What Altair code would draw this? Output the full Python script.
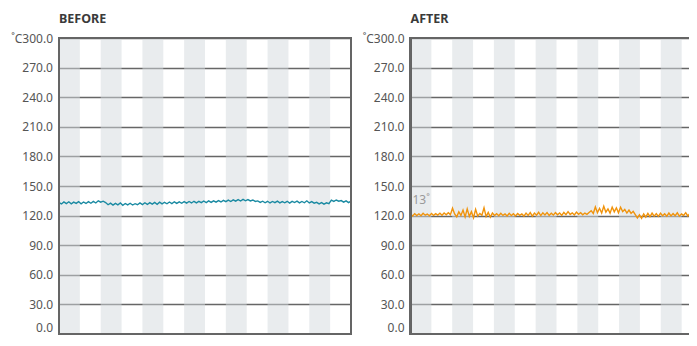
import altair as alt
import pandas as pd

# ---- data ----
y_ticks = [0, 30, 60, 90, 120, 150, 180, 210, 240, 270, 300]
n_bands = 14
panel_titles = ["BEFORE", "AFTER"]
annotation_text = "13˚"
annotation_value = 128.5

before_temp = [
    133.2, 131.8, 133.9, 132.1, 134.0, 131.9, 133.6, 132.4, 134.2, 132.0, 133.8, 132.3, 134.1, 132.5, 134.4, 132.8,
    135.0, 133.6, 134.6, 133.2,
    131.0, 132.6, 130.6, 132.4, 130.9, 132.8, 130.5, 132.3, 130.8, 132.5, 130.7, 132.1, 131.0, 132.9, 131.2, 133.0,
    131.3, 133.2, 131.6, 133.4, 131.5, 133.6, 131.9, 133.5, 132.0, 133.8, 132.2, 134.0, 132.4, 133.9, 132.5, 134.2,
    132.6, 134.3, 132.8, 134.5, 132.9, 134.4, 133.1, 134.8, 133.2, 134.9, 133.4, 135.0, 133.6, 135.2,
    133.8, 135.5, 134.1, 135.7, 134.3, 136.0, 134.6, 136.2, 134.8, 136.5, 135.0, 136.3, 134.9, 135.8, 134.4,
    134.9, 133.4, 134.6, 133.0, 134.5, 132.8, 134.3, 133.1, 134.6, 132.9, 134.2, 133.0, 134.5, 132.7, 134.4, 133.2,
    134.6, 132.9, 134.3, 133.0, 135.0, 132.8, 134.2, 132.6,
    133.4, 131.8, 133.2, 131.6, 133.0, 132.0,
    135.6, 134.4, 135.8, 134.6, 135.2, 133.6, 134.9, 133.2, 134.6,
]

after_temp = [
    121.5, 119.6, 122.0, 120.1, 121.8, 119.8, 122.3, 120.4, 121.6, 119.9, 122.1, 120.2, 121.9, 120.5, 122.4, 120.3,
    122.6, 120.8, 123.0,
    121.0, 127.5, 121.6, 118.8, 123.8, 120.2, 125.6, 118.6, 126.8, 119.2, 124.0, 117.8, 126.4, 119.5, 122.2, 120.3,
    127.9, 119.0, 123.2, 118.5, 122.6, 120.1,
    122.0, 119.8, 122.3, 120.2, 121.7, 119.6, 122.4, 120.0, 121.9, 119.7, 122.2, 120.3, 121.8, 119.5, 122.5, 120.1,
    123.0, 119.4, 122.6, 120.4, 123.4, 120.0, 122.8, 120.6, 123.1, 120.2, 122.4, 120.5, 123.0, 120.8, 122.6, 120.2,
    123.2, 121.0, 124.0, 121.2, 122.8, 120.6, 123.5, 121.4, 123.0, 120.9, 122.6, 121.3, 123.2,
    125.0, 122.2, 128.8, 123.0, 127.4, 122.6, 129.5, 123.4, 126.8, 122.5, 128.6, 123.8, 127.9, 122.8, 128.4, 124.0,
    126.2, 122.6, 125.6, 122.2, 124.4,
    121.0, 117.6, 120.8, 117.2, 121.6, 118.4, 122.3, 119.0, 122.6, 119.5, 122.0, 119.2, 122.4, 119.8, 121.9, 119.5,
    122.6, 119.6, 122.0, 119.9, 122.8, 119.4, 121.8, 120.2, 123.0, 119.6, 122.2, 120.4, 121.6, 119.8, 122.9, 120.3,
    121.5,
]

line_colors = ["#1a8aa2", "#f0930c"]

W, H = 292, 296
FONT = "Noto Sans"


def series_df(vals):
    n = len(vals)
    return pd.DataFrame({"t": [i * n_bands / (n - 1) for i in range(n)], "temp": vals})


bands = pd.DataFrame({"b0": list(range(0, n_bands, 2))})
bands["b1"] = bands["b0"] + 1

x_scale = alt.Scale(domain=[0, n_bands], nice=False, zero=False)
y_scale = alt.Scale(domain=[0, 300], nice=False)

y_axis = alt.Axis(
    values=y_ticks,
    tickCount=len(y_ticks) + 5,
    labelExpr="datum.value == 300 ? '˚C' + format(datum.value, '.1f') : format(datum.value, '.1f')",
    labelOverlap=False,
    labelBaseline={"condition": {"test": "datum.value == 0", "value": "bottom"}, "value": "middle"},
    grid=True, gridColor="#666666", gridWidth=1.3,
    domain=False, ticks=False, labelPadding=6.5,
    labelFont=FONT, labelFontSize=12, labelColor="#555555",
    title=None,
)


def panel(vals, color, title, annotate=False):
    df = series_df(vals)
    base_grid = alt.Chart(df).mark_line(opacity=0).encode(
        x=alt.X("t:Q", scale=x_scale, axis=None),
        y=alt.Y("temp:Q", scale=y_scale, axis=y_axis),
    )
    stripes = alt.Chart(bands).mark_rect(fill="#d3d9de", opacity=0.5).encode(
        x=alt.X("b0:Q", scale=x_scale, axis=None),
        x2="b1:Q",
    )
    line = alt.Chart(df).mark_line(color=color, strokeWidth=1.4).encode(
        x=alt.X("t:Q", scale=x_scale, axis=None),
        y=alt.Y("temp:Q", scale=y_scale),
    )
    frame = alt.Chart(df).mark_rect(fillOpacity=0, stroke="#666666", strokeWidth=1.5).encode(
        x=alt.value(0), x2=alt.value(W), y=alt.value(0), y2=alt.value(H)
    )
    layers = [base_grid, stripes, line, frame]
    if annotate:
        ann = pd.DataFrame({"t": [0], "temp": [annotation_value], "label": [annotation_text]})
        txt = alt.Chart(ann).mark_text(
            align="left", baseline="bottom", dx=2, font=FONT, fontSize=12, color="#999999"
        ).encode(x=alt.X("t:Q", scale=x_scale, axis=None), y=alt.Y("temp:Q", scale=y_scale), text="label:N")
        layers.append(txt)
    return alt.layer(*layers).properties(
        width=W, height=H,
        title=alt.TitleParams(
            title, anchor="start", frame="group", font=FONT, fontSize=12.5, fontWeight="bold",
            color="#3a3a3a", offset=7,
        ),
    )


chart = alt.hconcat(
    panel(before_temp, line_colors[0], panel_titles[0]),
    panel(after_temp, line_colors[1], panel_titles[1], annotate=True),
    spacing=7.5,
).configure_view(stroke=None).properties(padding={"left": 2, "top": 4, "right": -17, "bottom": 0})

chart.save("out.html", embed_options={"renderer": "svg", "actions": False})
